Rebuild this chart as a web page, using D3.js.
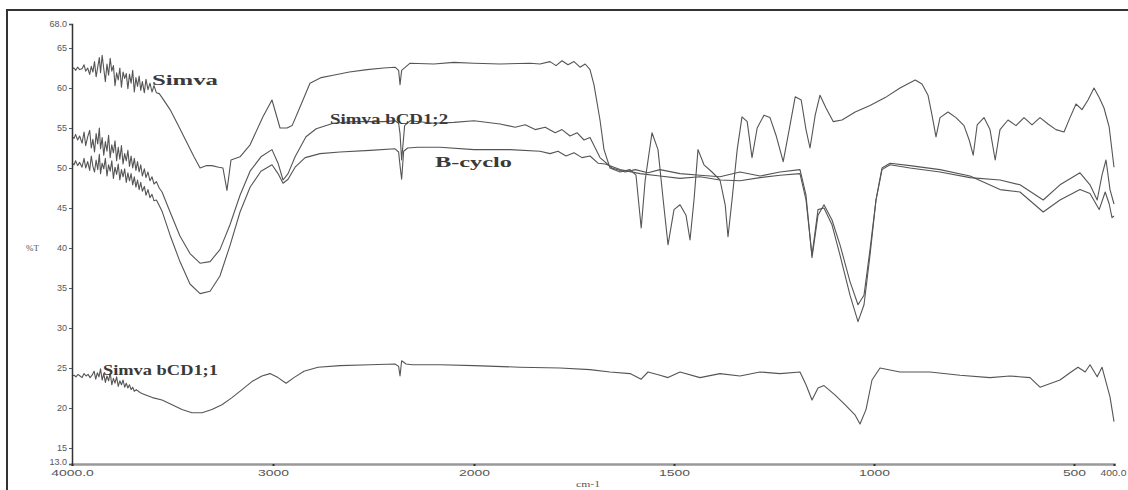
<!DOCTYPE html>
<html>
<head>
<meta charset="utf-8">
<script src="https://cdn.jsdelivr.net/npm/d3@7"></script>
<style>
  body { margin: 0; background: #fff; }
  svg { display: block; font-family: "Liberation Serif", "DejaVu Serif", serif; }
  .axis text { fill: #555; font-size: 9px; }
  .curve-label { fill: #3a3a3a; font-size: 14px; font-weight: bold; }
</style>
</head>
<body>
<div id="chart"></div>
<script>
// Data: [wavenumber (cm-1), %T]
const simva = [
  [4000, 62.4], [3990, 62.5], [3982, 62.2], [3972, 62.6], [3962, 62.3], [3950, 62.4],
  [3940, 62.9], [3932, 62.1], [3922, 62.5], [3912, 61.7], [3904, 62.7], [3896, 62.0],
  [3888, 63.3], [3880, 61.4], [3872, 62.6], [3864, 63.8], [3858, 61.9], [3850, 64.1],
  [3842, 62.4], [3834, 60.8], [3826, 63.0], [3818, 61.6], [3810, 63.7], [3802, 62.1],
  [3794, 62.8], [3786, 60.3], [3778, 61.9], [3770, 61.0], [3762, 62.5], [3754, 60.1],
  [3746, 62.0], [3738, 61.2], [3730, 61.8], [3722, 59.9], [3714, 61.7], [3706, 60.6],
  [3698, 62.2], [3690, 59.5], [3682, 61.3], [3674, 60.2], [3666, 61.5], [3658, 59.7],
  [3650, 60.8], [3640, 59.4], [3632, 61.1], [3622, 59.8], [3612, 60.6], [3602, 59.5],
  [3592, 60.3], [3580, 59.4], [3566, 59.3], [3552, 58.8], [3512, 57.3], [3473, 55.4],
  [3433, 53.4], [3393, 51.4], [3363, 50.0], [3330, 50.3], [3304, 50.3], [3270, 50.1],
  [3249, 50.0], [3229, 47.2], [3209, 51.0], [3164, 51.4], [3114, 52.9], [3050, 56.4],
  [3005, 58.5], [2965, 55.0], [2930, 55.0], [2905, 55.3], [2866, 57.6], [2816, 60.6],
  [2760, 61.3], [2701, 61.6], [2620, 62.0], [2532, 62.3], [2450, 62.5], [2393, 62.6],
  [2375, 62.2], [2368, 60.4], [2360, 62.2], [2318, 63.1], [2200, 63.0], [2100, 63.2],
  [2000, 63.1], [1935, 63.0], [1860, 63.1], [1835, 63.0], [1810, 63.3], [1795, 62.8],
  [1780, 63.4], [1765, 62.9], [1750, 63.3], [1735, 62.6], [1722, 63.0], [1710, 62.3],
  [1700, 60.4], [1685, 56.0], [1675, 52.3], [1660, 50.0],
  [1635, 49.5], [1610, 49.8], [1595, 49.1], [1582, 42.5], [1572, 48.5], [1555, 54.4],
  [1540, 52.3], [1527, 46.0], [1515, 40.4], [1500, 44.8], [1485, 45.4], [1470, 44.1],
  [1460, 41.0], [1450, 46.0], [1440, 52.3], [1425, 50.4], [1405, 49.5], [1385, 48.5],
  [1372, 45.4], [1365, 41.4], [1355, 46.0], [1342, 52.3], [1330, 56.4], [1317, 55.8],
  [1305, 51.3], [1292, 55.0], [1275, 56.6], [1260, 56.3], [1245, 54.1], [1227, 50.8],
  [1212, 54.8], [1197, 58.9], [1182, 58.5], [1170, 54.8], [1160, 52.5], [1147, 56.6],
  [1135, 59.1], [1120, 57.5], [1102, 55.8], [1080, 56.0], [1047, 57.0], [1010, 57.8],
  [972, 58.8], [935, 60.0], [897, 61.0], [880, 60.5], [865, 59.1], [855, 56.6],
  [845, 53.9], [835, 56.3], [815, 57.0], [795, 56.3], [775, 55.3], [762, 53.5],
  [752, 51.6], [742, 55.4], [725, 56.3], [710, 54.8], [697, 51.0], [685, 54.8],
  [665, 56.0], [645, 55.3], [625, 56.3], [605, 55.4], [585, 56.3], [565, 55.5],
  [545, 54.8], [525, 54.5], [510, 56.3], [495, 58.0], [480, 57.3], [465, 58.5],
  [450, 60.0], [437, 58.8], [425, 57.5], [412, 55.1], [400, 50.1]
];

const simvaCd12 = [
  [4000, 53.9], [3990, 53.7], [3982, 54.2], [3972, 53.5], [3962, 54.0], [3950, 53.1],
  [3940, 54.5], [3932, 52.8], [3922, 53.9], [3912, 54.7], [3904, 52.5], [3896, 53.6],
  [3888, 52.0], [3880, 54.3], [3872, 53.0], [3864, 55.0], [3858, 52.4], [3850, 53.8],
  [3842, 51.6], [3834, 53.3], [3826, 52.1], [3818, 54.1], [3810, 51.3], [3802, 52.9],
  [3794, 51.9], [3786, 53.4], [3778, 50.9], [3770, 52.6], [3762, 51.1], [3754, 52.8],
  [3746, 50.5], [3738, 51.8], [3730, 50.9], [3722, 52.2], [3714, 50.2], [3706, 51.5],
  [3698, 50.0], [3690, 51.2], [3682, 49.7], [3674, 50.8], [3666, 49.5], [3658, 50.4],
  [3650, 49.0], [3640, 49.9], [3632, 48.8], [3622, 49.5], [3612, 48.4], [3602, 48.9],
  [3592, 48.0], [3580, 48.3], [3566, 47.5], [3552, 47.0], [3512, 44.5], [3463, 41.5],
  [3413, 39.3], [3363, 38.1], [3313, 38.3], [3264, 39.8], [3214, 42.9], [3164, 46.6],
  [3114, 49.6], [3060, 51.4], [3005, 52.3], [2975, 50.6], [2950, 48.5], [2925, 49.3],
  [2890, 51.4], [2836, 53.9], [2785, 54.9], [2700, 55.6], [2600, 55.8], [2450, 55.8],
  [2393, 55.9], [2375, 55.6], [2368, 54.3], [2360, 51.0], [2345, 55.3], [2318, 55.9],
  [2200, 55.6], [2100, 55.7], [2000, 55.9], [1935, 55.5], [1897, 55.1], [1872, 55.4],
  [1847, 54.8], [1822, 55.1], [1797, 54.4], [1780, 54.8], [1760, 54.0], [1742, 54.4],
  [1725, 53.5], [1710, 53.8], [1695, 52.3], [1685, 51.3], [1655, 50.0], [1622, 49.5],
  [1597, 49.8], [1565, 49.4], [1535, 49.8], [1485, 49.3], [1435, 49.1], [1385, 48.9],
  [1335, 49.5], [1285, 49.0], [1235, 49.5], [1185, 49.8], [1170, 46.6], [1155, 38.8],
  [1140, 44.1], [1125, 45.4], [1105, 43.5], [1085, 40.4], [1060, 35.8], [1040, 32.9],
  [1025, 34.1], [1010, 39.8], [995, 46.0], [980, 49.8], [960, 50.4], [910, 50.0],
  [835, 49.5], [760, 48.8], [685, 48.5], [635, 47.9], [577, 46.0], [535, 47.9],
  [485, 49.4], [460, 47.9], [442, 46.0], [430, 49.1], [420, 51.0], [410, 47.3],
  [400, 45.5]
];

const betaCyclo = [
  [4000, 50.6], [3990, 50.4], [3982, 50.9], [3972, 50.3], [3962, 50.7], [3950, 50.1],
  [3940, 51.2], [3932, 50.0], [3922, 50.8], [3912, 49.7], [3904, 51.5], [3896, 50.2],
  [3888, 49.5], [3880, 51.0], [3872, 49.8], [3864, 51.7], [3858, 49.3], [3850, 50.6],
  [3842, 49.9], [3834, 51.2], [3826, 49.0], [3818, 50.4], [3810, 49.6], [3802, 50.9],
  [3794, 48.7], [3786, 50.1], [3778, 49.2], [3770, 50.5], [3762, 48.5], [3754, 49.8],
  [3746, 48.9], [3738, 49.9], [3730, 48.2], [3722, 49.4], [3714, 48.4], [3706, 49.3],
  [3698, 47.9], [3690, 48.9], [3682, 47.6], [3674, 48.5], [3666, 47.3], [3658, 48.2],
  [3650, 47.1], [3640, 47.7], [3632, 46.6], [3622, 47.3], [3612, 46.3], [3602, 46.7],
  [3592, 45.9], [3580, 46.0], [3566, 45.3], [3552, 44.6], [3512, 41.6], [3463, 38.3],
  [3413, 35.5], [3363, 34.3], [3313, 34.6], [3264, 36.5], [3214, 40.3], [3164, 44.5],
  [3114, 47.6], [3060, 49.6], [3005, 50.4], [2975, 49.3], [2950, 48.1], [2925, 48.6],
  [2890, 50.1], [2840, 51.3], [2766, 51.8], [2667, 52.0], [2517, 52.2], [2393, 52.4],
  [2375, 52.0], [2368, 50.3], [2360, 48.6], [2350, 52.1], [2330, 52.5], [2280, 52.6],
  [2169, 52.6], [2000, 52.3], [1910, 52.3], [1835, 52.1], [1810, 51.8], [1790, 52.1],
  [1770, 51.5], [1750, 51.9], [1730, 51.3], [1710, 51.5], [1690, 50.6], [1672, 50.5],
  [1635, 49.8], [1585, 49.3], [1535, 49.0], [1485, 48.7], [1435, 48.9], [1385, 48.5],
  [1335, 48.4], [1285, 48.8], [1235, 49.1], [1185, 49.3], [1170, 46.0], [1155, 39.1],
  [1140, 44.8], [1125, 45.0], [1105, 42.9], [1085, 39.1], [1060, 34.1], [1040, 30.8],
  [1025, 32.9], [1010, 39.1], [995, 46.0], [980, 50.0], [960, 50.6], [910, 50.3],
  [835, 49.8], [760, 49.0], [685, 47.3], [635, 47.0], [577, 44.5], [535, 46.0],
  [485, 47.3], [460, 46.8], [437, 44.8], [422, 47.0], [412, 45.5], [405, 43.8],
  [400, 44.0]
];

const simvaCd11 = [
  [4000, 24.0], [3990, 24.1], [3980, 23.9], [3970, 24.2], [3960, 24.0], [3950, 23.8],
  [3940, 24.3], [3930, 24.0], [3920, 24.2], [3910, 23.8], [3900, 24.1], [3890, 24.6],
  [3882, 23.6], [3874, 24.4], [3866, 23.9], [3858, 24.9], [3850, 23.5], [3842, 24.3],
  [3834, 23.2], [3826, 24.0], [3818, 23.4], [3810, 24.4], [3802, 22.9], [3794, 23.7],
  [3786, 23.1], [3778, 23.9], [3770, 22.7], [3762, 23.4], [3754, 22.9], [3746, 23.5],
  [3738, 22.6], [3730, 23.1], [3722, 22.5], [3714, 22.9], [3706, 22.3], [3698, 22.6],
  [3690, 22.1], [3680, 22.3], [3660, 21.9], [3640, 21.7], [3620, 21.5], [3600, 21.3],
  [3552, 21.0], [3502, 20.4], [3453, 19.8], [3403, 19.4], [3353, 19.4], [3304, 19.8],
  [3254, 20.4], [3204, 21.3], [3154, 22.3], [3105, 23.3], [3055, 24.0], [3015, 24.3],
  [2975, 23.8], [2935, 23.1], [2896, 23.8], [2846, 24.6], [2776, 25.1], [2667, 25.3],
  [2517, 25.4], [2393, 25.5], [2375, 25.2], [2368, 24.0], [2360, 25.9], [2338, 25.5],
  [2308, 25.4], [2169, 25.4], [2000, 25.3], [1885, 25.1], [1785, 25.0], [1710, 24.8],
  [1660, 24.5], [1610, 24.3], [1582, 23.6], [1565, 24.5], [1535, 24.1], [1515, 23.8],
  [1485, 24.5], [1435, 23.8], [1385, 24.3], [1335, 24.0], [1285, 24.5], [1235, 24.3],
  [1185, 24.5], [1170, 22.9], [1155, 21.0], [1140, 22.5], [1125, 22.8], [1097, 21.6],
  [1072, 20.4], [1047, 19.1], [1035, 18.0], [1020, 19.8], [1005, 23.5], [985, 25.0],
  [935, 24.5], [860, 24.5], [785, 24.1], [710, 23.8], [660, 24.0], [610, 23.8],
  [585, 22.6], [535, 23.5], [510, 24.4], [490, 25.1], [472, 24.5], [460, 25.4],
  [442, 23.9], [430, 25.1], [410, 21.4], [400, 18.3]
];

const seriesList = [simva, simvaCd12, betaCyclo, simvaCd11];

// Curve labels: text, start wavenumber, baseline %T, drawn width
const labelNames = ["Simva", "Simva bCD1;2", "B-cyclo", "Simva bCD1;1"];
const labelWn = [3602, 2716, 2194, 3846];
const labelT = [60.4, 55.5, 50.1, 24.1];
const labelLen = [66, 118, 77, 115];

// Axis ticks
const xTicks = [4000, 3000, 2000, 1500, 1000, 500, 400];
const yTicks = [13, 15, 20, 25, 30, 35, 40, 45, 50, 55, 60, 65, 68];

// Set up dimensions
const width = 1128;
const height = 490;
const margin = { top: 24, right: 14, bottom: 26, left: 72 };

const svg = d3
  .select("#chart")
  .append("svg")
  .attr("width", width)
  .attr("height", height);

// Scales (the instrument changes scale at 2000 cm-1)
const xScale = d3
  .scaleLinear()
  .domain([4000, 2000, 400])
  .range([margin.left, 474, width - margin.right]);

const yScale = d3
  .scaleLinear()
  .domain([13, 68])
  .range([height - margin.bottom, margin.top]);

// Frame
svg
  .append("path")
  .attr("d", `M7,${height} V10 H${width}`)
  .attr("fill", "none")
  .attr("stroke", "#333")
  .attr("stroke-width", 2);

// Draw spectra
const line = d3
  .line()
  .x((d) => xScale(d[0]))
  .y((d) => yScale(d[1]));

svg
  .append("g")
  .selectAll("path")
  .data(seriesList)
  .join("path")
  .attr("d", line)
  .attr("fill", "none")
  .attr("stroke", "#555")
  .attr("stroke-width", 1.1)
  .attr("stroke-linejoin", "round");

// Draw x axis (labels are drawn wide, like the instrument printout)
const fmtX = (d) => (d === 4000 || d === 400 ? d.toFixed(1) : d);
const xAxisG = svg
  .append("g")
  .attr("class", "axis")
  .attr("transform", `translate(0,${height - margin.bottom})`)
  .call(d3.axisBottom(xScale).tickValues(xTicks).tickSize(2).tickPadding(4).tickFormat(fmtX));
xAxisG.select(".domain").attr("stroke", "#999").attr("stroke-width", 2.5);
xAxisG.selectAll(".tick line").attr("stroke", "#333").attr("stroke-width", 2);
xAxisG
  .selectAll(".tick text")
  .attr("transform", (d) => (d === 400 ? "translate(-1,0) scale(1.15,1)" : "scale(1.55,1)"));

// Draw y axis
const fmtY = (d) => (d === 13 || d === 68 ? d.toFixed(1) : d);
const yAxisG = svg
  .append("g")
  .attr("class", "axis")
  .attr("transform", `translate(${margin.left},0)`)
  .call(d3.axisLeft(yScale).tickValues(yTicks).tickSize(3).tickPadding(2).tickFormat(fmtY));
yAxisG.select(".domain").attr("stroke", "#333").attr("stroke-width", 1.5);
yAxisG.selectAll(".tick line").attr("stroke", "#555");
yAxisG.selectAll(".tick text").filter((d) => d === 13).attr("dy", "0.1em");

// Axis titles
svg
  .append("text")
  .attr("x", 26)
  .attr("y", yScale(40) + 3)
  .attr("fill", "#555")
  .attr("font-size", 9)
  .text("%T");

svg
  .append("text")
  .attr("x", 576)
  .attr("y", 487)
  .attr("fill", "#555")
  .attr("font-size", 8)
  .attr("textLength", 24)
  .attr("lengthAdjust", "spacingAndGlyphs")
  .text("cm-1");

// Curve labels
svg
  .append("g")
  .selectAll("text")
  .data(labelNames)
  .join("text")
  .attr("class", "curve-label")
  .attr("x", (d, i) => xScale(labelWn[i]))
  .attr("y", (d, i) => yScale(labelT[i]))
  .attr("textLength", (d, i) => labelLen[i])
  .attr("lengthAdjust", "spacingAndGlyphs")
  .text((d) => d);
</script>
</body>
</html>
